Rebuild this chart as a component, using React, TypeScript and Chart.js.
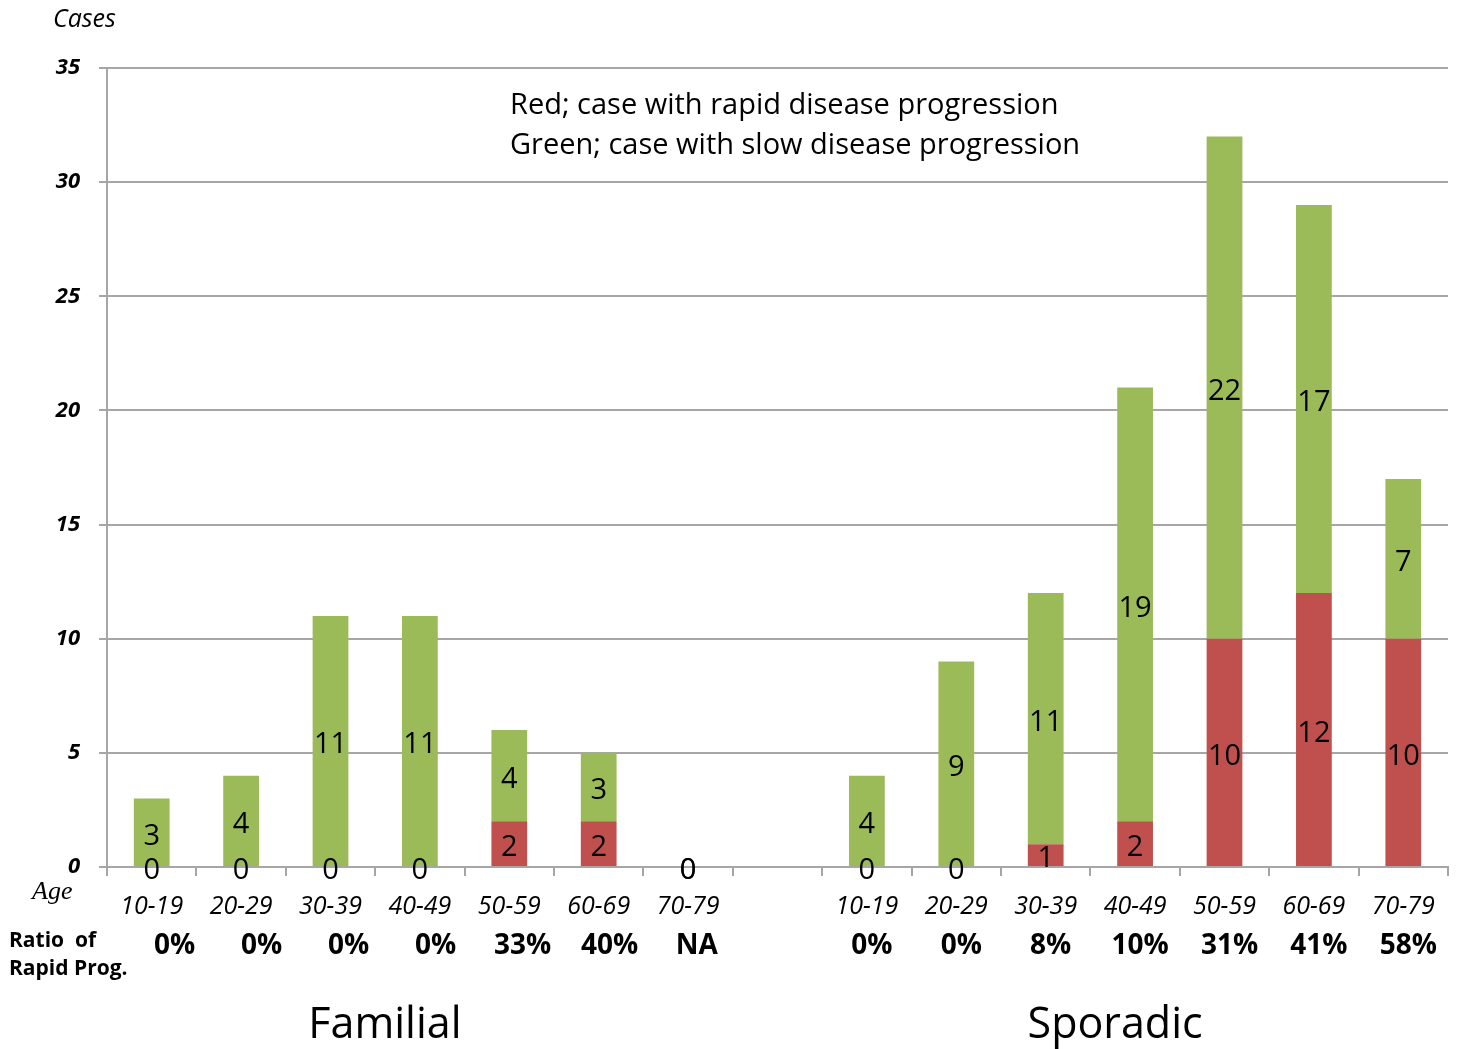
import React, { useEffect, useRef } from "react";
import { Chart, registerables } from "chart.js";

Chart.register(...registerables);

const categories = [
  "10-19", "20-29", "30-39", "40-49", "50-59", "60-69", "70-79",
  "",
  "10-19", "20-29", "30-39", "40-49", "50-59", "60-69", "70-79",
];
const rapidCases = [0, 0, 0, 0, 2, 2, 0, null, 0, 0, 1, 2, 10, 12, 10];
const slowCases = [3, 4, 11, 11, 4, 3, 0, null, 4, 9, 11, 19, 22, 17, 7];
const ratioLabels = ["0%", "0%", "0%", "0%", "33%", "40%", "NA", "", "0%", "0%", "8%", "10%", "31%", "41%", "58%"];
const groupNames = ["Familial", "Sporadic"];
const legendLines = [
  "Red; case with rapid disease progression",
  "Green; case with slow disease progression",
];
const yTicks = { min: 0, max: 35, step: 5 };

const FONT = "'Open Sans', 'Noto Sans', sans-serif";
const GRID = "#a6a6a6";
const RED = "#c0504d";
const GREEN = "#9bbb59";

const textPlugin = {
  id: "textPlugin",
  afterDatasetsDraw(chart: any) {
    const ctx = chart.ctx;
    ctx.save();
    ctx.fillStyle = "#000";
    ctx.textAlign = "center";
    ctx.textBaseline = "middle";
    ctx.font = `29px ${FONT}`;
    chart.data.datasets.forEach((ds: any, di: number) => {
      const meta = chart.getDatasetMeta(di);
      meta.data.forEach((el: any, i: number) => {
        const v = ds.data[i];
        if (v === null || v === undefined) return;
        const y = (el.y + el.base) / 2 + 4;
        ctx.fillText(String(v), el.x, y);
      });
    });
    ctx.restore();
  },
  afterDraw(chart: any) {
    const ctx = chart.ctx;
    const xs = chart.scales.x;
    ctx.save();
    ctx.fillStyle = "#000";
    ctx.textAlign = "left";
    ctx.textBaseline = "middle";
    ctx.font = `italic 25px ${FONT}`;
    ctx.fillText("Cases", 53, 20);
    ctx.font = `29px ${FONT}`;
    ctx.fillText(legendLines[0], 510, 106);
    ctx.fillText(legendLines[1], 510, 146);
    ctx.font = `italic 26px 'Liberation Serif', serif`;
    ctx.fillText("Age", 32, 892);
    ctx.font = `bold 21px ${FONT}`;
    ctx.fillText("Ratio  of", 9, 941);
    ctx.fillText("Rapid Prog.", 9, 969);
    categories.forEach((c, i) => {
      const x = xs.getPixelForValue(i);
      ctx.textAlign = "center";
      ctx.font = `italic 25px ${FONT}`;
      if (c) ctx.fillText(c, x, 907);
      ctx.font = `bold 28px ${FONT}`;
      const shift = i < 7 ? 23 - i * 2.4 : 5;
      if (ratioLabels[i]) ctx.fillText(ratioLabels[i], x + shift, 946);
    });
    ctx.font = `43px ${FONT}`;
    ctx.textAlign = "center";
    const c1 = (xs.getPixelForValue(0) + xs.getPixelForValue(6)) / 2 - 35;
    const c2 = (xs.getPixelForValue(8) + xs.getPixelForValue(14)) / 2 - 20;
    ctx.fillText(groupNames[0], c1, 1026);
    ctx.fillText(groupNames[1], c2, 1026);
    ctx.restore();
  },
};

export default function App() {
  const ref = useRef<HTMLCanvasElement | null>(null);
  useEffect(() => {
    if (!ref.current) return;
    const chart = new Chart(ref.current, {
      type: "bar",
      data: {
        labels: categories,
        datasets: [
          { label: "Rapid", data: rapidCases as any, backgroundColor: RED, barPercentage: 0.4, categoryPercentage: 1 },
          { label: "Slow", data: slowCases as any, backgroundColor: GREEN, barPercentage: 0.4, categoryPercentage: 1 },
        ],
      },
      options: {
        animation: false,
        responsive: true,
        maintainAspectRatio: false,
        layout: { padding: { left: 0, top: 68, right: 10, bottom: 0 } },
        plugins: { legend: { display: false }, tooltip: { enabled: false } },
        scales: {
          x: {
            stacked: true,
            grid: { drawOnChartArea: false, drawTicks: true, tickLength: 9, color: GRID, lineWidth: 2, offset: true },
            border: { color: GRID, width: 2 },
            ticks: { display: false },
            afterFit: (s: any) => { s.height = 182; },
          },
          y: {
            stacked: true,
            min: yTicks.min,
            max: yTicks.max,
            ticks: {
              stepSize: yTicks.step,
              color: "#000",
              padding: 19,
              font: { family: FONT, size: 22, style: "italic", weight: "bold" },
            },
            grid: { color: GRID, lineWidth: 2, tickLength: 8 },
            border: { color: GRID, width: 2 },
            afterFit: (s: any) => { s.width = 107; },
          },
        },
      },
      plugins: [textPlugin],
    });
    return () => chart.destroy();
  }, []);
  return (
    <div style={{ position: "absolute", left: 0, top: 0, width: 1458, height: 1049, background: "#fff" }}>
      <canvas ref={ref} />
    </div>
  );
}
